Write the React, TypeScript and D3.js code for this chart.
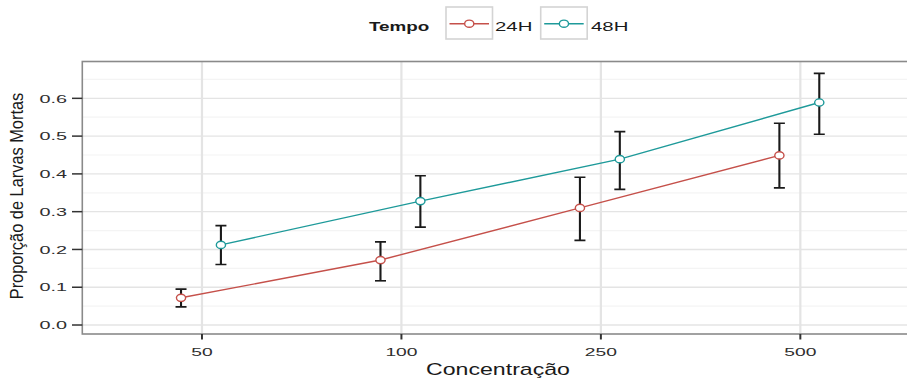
import React from "react";
import * as d3 from "d3";

// Mean proportion of dead larvae per concentration, with error-bar limits
const concentrations = ["50", "100", "250", "500"];
const groups = ["24H", "48H"];
const mean24 = [0.072, 0.172, 0.31, 0.449];
const lower24 = [0.048, 0.117, 0.224, 0.363];
const upper24 = [0.095, 0.22, 0.391, 0.534];
const mean48 = [0.212, 0.328, 0.439, 0.589];
const lower48 = [0.16, 0.259, 0.359, 0.505];
const upper48 = [0.263, 0.395, 0.512, 0.666];
const yTicks = [0, 0.1, 0.2, 0.3, 0.4, 0.5, 0.6];
const yMinor = [-0.05, 0.05, 0.15, 0.25, 0.35, 0.45, 0.55, 0.65];

const W = 907;
const H = 378;
const FONT = "'Liberation Sans', Arial, Helvetica, sans-serif";
const colors = ["#C5504A", "#1E9A9A"];

const panel = { left: 82.3, right: 920, top: 61.5, bottom: 334 };

type Series = { name: string; color: string; mean: number[]; lo: number[]; hi: number[]; dodge: number };

const seriesList: Series[] = [
  { name: groups[0], color: colors[0], mean: mean24, lo: lower24, hi: upper24, dodge: -0.105 },
  { name: groups[1], color: colors[1], mean: mean48, lo: lower48, hi: upper48, dodge: 0.095 },
];

function SText(props: {
  x: number; y: number; kx: number; ky?: number; size: number; anchor?: string;
  weight?: string | number; fill?: string; rotate?: number; children: React.ReactNode;
}) {
  const { x, y, kx, ky = 1, size, anchor = "start", weight = "normal", fill = "#222", rotate = 0 } = props;
  return (
    <text
      transform={`translate(${x},${y}) rotate(${rotate}) scale(${kx},${ky})`}
      fontSize={size}
      fontFamily={FONT}
      fontWeight={weight}
      textAnchor={anchor}
      fill={fill}
    >
      {props.children}
    </text>
  );
}

export default function App() {
  const x = d3.scaleLinear().domain([0.4, 4.6]).range([panel.left, panel.right]);
  const y = d3.scaleLinear().domain([-0.0238, 0.6975]).range([panel.bottom, panel.top]);
  const line = d3
    .line<[number, number]>()
    .x((d) => d[0])
    .y((d) => d[1]);
  const capHalf = 5.5;

  const legendKeys = [
    { label: groups[0], color: colors[0], box: 446, text: 495 },
    { label: groups[1], color: colors[1], box: 540.7, text: 591 },
  ];

  return (
    <svg
      width={W}
      height={H}
      style={{ position: "absolute", left: 0, top: 0, background: "#fff" }}
    >
      <defs>
        <clipPath id="panelClip">
          <rect x={panel.left} y={panel.top} width={panel.right - panel.left} height={panel.bottom - panel.top} />
        </clipPath>
      </defs>
      <rect x={0} y={0} width={W} height={H} fill="#fff" />

      {/* grid */}
      <g clipPath="url(#panelClip)">
        {yMinor.map((v) => (
          <line key={"mn" + v} x1={panel.left} x2={panel.right} y1={y(v)} y2={y(v)} stroke="#F4F4F4" strokeWidth={1.2} />
        ))}
        {yTicks.map((v) => (
          <line key={"mj" + v} x1={panel.left} x2={panel.right} y1={y(v)} y2={y(v)} stroke="#E4E4E4" strokeWidth={1.4} />
        ))}
        {concentrations.map((c, i) => (
          <line key={"vx" + c} x1={x(i + 1)} x2={x(i + 1)} y1={panel.top} y2={panel.bottom} stroke="#E4E4E4" strokeWidth={2.2} />
        ))}
      </g>

      {/* error bars, lines and points */}
      <g clipPath="url(#panelClip)">
        {seriesList.map((s) =>
          s.mean.map((m, i) => {
            const cx = x(i + 1 + s.dodge);
            return (
              <g key={s.name + "eb" + i} stroke="#1A1A1A" fill="none">
                <line x1={cx} x2={cx} y1={y(s.lo[i])} y2={y(s.hi[i])} strokeWidth={2.1} />
                <line x1={cx - capHalf} x2={cx + capHalf} y1={y(s.lo[i])} y2={y(s.lo[i])} strokeWidth={1.6} />
                <line x1={cx - capHalf} x2={cx + capHalf} y1={y(s.hi[i])} y2={y(s.hi[i])} strokeWidth={1.6} />
              </g>
            );
          })
        )}
        {seriesList.map((s) => (
          <path
            key={s.name + "line"}
            d={line(s.mean.map((m, i) => [x(i + 1 + s.dodge), y(m)] as [number, number])) || ""}
            fill="none"
            stroke={s.color}
            strokeWidth={1.4}
          />
        ))}
        {seriesList.map((s) =>
          s.mean.map((m, i) => (
            <ellipse
              key={s.name + "pt" + i}
              cx={x(i + 1 + s.dodge)}
              cy={y(m)}
              rx={4.6}
              ry={3.6}
              fill="#fff"
              stroke={s.color}
              strokeWidth={1.4}
            />
          ))
        )}
      </g>

      {/* panel border */}
      <rect
        x={panel.left}
        y={panel.top}
        width={panel.right - panel.left}
        height={panel.bottom - panel.top}
        fill="none"
        stroke="#8A8A8A"
        strokeWidth={1.6}
      />

      {/* y axis */}
      {yTicks.map((v) => (
        <g key={"yt" + v}>
          <line x1={72} x2={panel.left} y1={y(v)} y2={y(v)} stroke="#333" strokeWidth={1.5} />
          <SText x={67} y={y(v) + 4.2} kx={1.8} size={11} anchor="end" fill="#2E2E2E" weight={500}>
            {d3.format(".1f")(v)}
          </SText>
        </g>
      ))}

      {/* x axis */}
      {concentrations.map((c, i) => (
        <g key={"xt" + c}>
          <line x1={x(i + 1)} x2={x(i + 1)} y1={panel.bottom} y2={panel.bottom + 5.5} stroke="#333" strokeWidth={2} />
          <SText x={x(i + 1)} y={355.5} kx={1.75} size={11} anchor="middle" fill="#2E2E2E" weight={500}>
            {c}
          </SText>
        </g>
      ))}

      {/* axis titles */}
      <SText x={498} y={375} kx={1.36} size={17} anchor="middle" fill="#1A1A1A">
        Concentração
      </SText>
      <SText x={22.5} y={196} kx={1.17} ky={1.35} size={14} anchor="middle" fill="#1A1A1A" rotate={-90}>
        Proporção de Larvas Mortas
      </SText>

      {/* legend */}
      <SText x={369} y={30.5} kx={1.45} size={13} weight="bold" fill="#1A1A1A">
        Tempo
      </SText>
      {legendKeys.map((k) => (
        <g key={"lg" + k.label}>
          <rect x={k.box} y={7} width={46.5} height={32} fill="#fff" stroke="#D4D4D4" strokeWidth={1.6} />
          <line x1={k.box + 3.5} x2={k.box + 43} y1={23.7} y2={23.7} stroke={k.color} strokeWidth={1.4} />
          <ellipse cx={k.box + 23.25} cy={23.7} rx={4.6} ry={3.6} fill="#fff" stroke={k.color} strokeWidth={1.4} />
          <SText x={k.text} y={30.5} kx={1.7} size={12} fill="#1A1A1A" weight={500}>
            {k.label}
          </SText>
        </g>
      ))}
    </svg>
  );
}
